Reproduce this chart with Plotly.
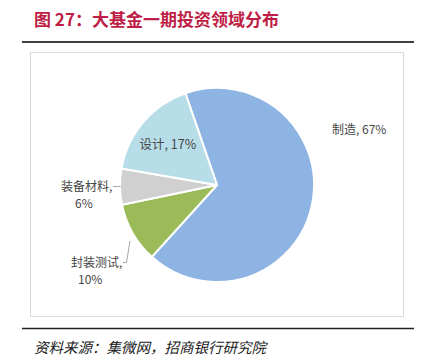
import plotly.graph_objects as go

W, H = 424, 363

categories = ["制造", "封装测试", "装备材料", "设计"]
values = [67, 10, 6, 17]
colors = ["#8EB4E3", "#9BBB59", "#D0D0D0", "#B7DEE8"]

title_text = "图 27：大基金一期投资领域分布"
source_text = "资料来源：集微网，招商银行研究院"

LABEL_COLOR = "#454545"
LABEL_FONT = "Noto Sans CJK SC"
LABEL_SIZE = 12

def px_x(x):
    return x / W

def px_y(y):
    return 1 - y / H

total = sum(values)
pct = [f"{v / total * 100:.0f}%" for v in values]

fig = go.Figure()
fig.add_trace(go.Pie(
    labels=categories,
    values=values,
    sort=False,
    direction="clockwise",
    rotation=-19,
    marker=dict(colors=colors, line=dict(color="white", width=2)),
    texttemplate=["", "", "", "%{label}, %{percent:.0%}"],
    textposition="inside",
    textfont=dict(family=LABEL_FONT, size=12.5, color=LABEL_COLOR),
    insidetextorientation="horizontal",
    showlegend=False,
    hoverinfo="label+percent",
    domain=dict(x=[px_x(120), px_x(314)], y=[px_y(282), px_y(88)]),
))

shapes = [
    dict(type="line", xref="paper", yref="paper", x0=px_x(22), x1=px_x(414),
         y0=px_y(42), y1=px_y(42), line=dict(color="#404040", width=2)),
    dict(type="rect", xref="paper", yref="paper", x0=px_x(30.5), x1=px_x(403.5),
         y0=px_y(52.5), y1=px_y(316.5), line=dict(color="#D9D9D9", width=1)),
    dict(type="line", xref="paper", yref="paper", x0=px_x(22), x1=px_x(414),
         y0=px_y(328.5), y1=px_y(328.5), line=dict(color="#202020", width=1.6)),
    # leader lines
    dict(type="line", xref="paper", yref="paper", x0=px_x(113), x1=px_x(120.5),
         y0=px_y(186.5), y1=px_y(186.5), line=dict(color="#A6A6A6", width=1)),
    dict(type="path", xref="paper", yref="paper",
         path=f"M {px_x(123)} {px_y(262.5)} L {px_x(126.5)} {px_y(262.5)} L {px_x(130)} {px_y(241)}",
         line=dict(color="#A6A6A6", width=1)),
]

label_font = dict(family=LABEL_FONT, size=LABEL_SIZE, color=LABEL_COLOR)

def ann(text, x, y, xanchor):
    return dict(text=text, xref="paper", yref="paper", x=px_x(x), y=px_y(y),
                xanchor=xanchor, yanchor="middle", showarrow=False,
                borderpad=0, font=dict(label_font))

annotations = [
    dict(text="<b>" + title_text + "</b>", xref="paper", yref="paper",
         x=px_x(32), y=px_y(18), xanchor="left", yanchor="middle", showarrow=False,
         font=dict(family="Noto Sans CJK SC", size=17, color="#BE1E45")),
    dict(text="<i>" + source_text + "</i>", xref="paper", yref="paper",
         x=px_x(32), y=px_y(346), xanchor="left", yanchor="middle", showarrow=False,
         font=dict(family="Noto Sans CJK SC", size=14.5, color="#202020")),
    ann(f"{categories[0]}, {pct[0]}", 331, 128, "left"),
    ann(f"{categories[2]},", 113, 185.5, "right"),
    ann(pct[2], 84, 202.5, "center"),
    ann(f"{categories[1]},", 123, 261.5, "right"),
    ann(pct[1], 90, 278.5, "center"),
]

fig.update_layout(
    width=W, height=H,
    margin=dict(l=0, r=0, t=0, b=0),
    paper_bgcolor="white",
    plot_bgcolor="white",
    shapes=shapes,
    annotations=annotations,
)

fig.write_html("out.html", config={"displayModeBar": False},
               post_script="document.body.style.margin='0px';")
